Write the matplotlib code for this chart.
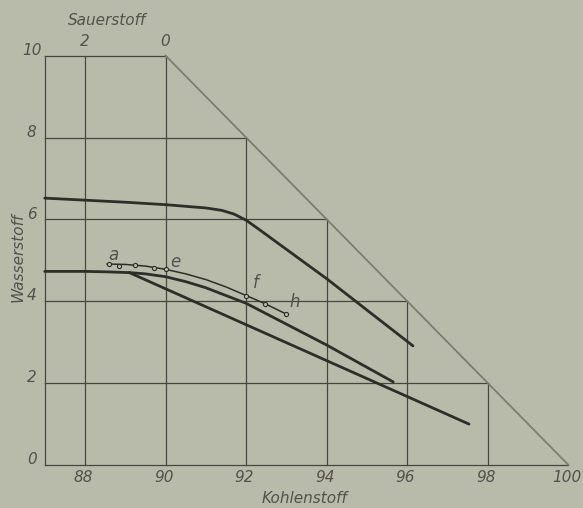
import matplotlib
matplotlib.use('Agg')
import matplotlib.pyplot as plt

# carbon (x) and hydrogen (y) grid levels; oxygen = 100 - C - H
carbon_ticks = [88, 90, 92, 94, 96, 98, 100]
hydrogen_ticks = [0, 2, 4, 6, 8, 10]
oxygen_ticks = [2, 0]          # on the top line H = 10
oxygen_tick_c = [88, 90]

# thick curves
upper_c = [87, 88, 89, 90, 91, 91.4, 91.7, 92.0, 92.3, 94, 96.14]
upper_h = [6.52, 6.47, 6.42, 6.36, 6.28, 6.22, 6.13, 5.98, 5.77, 4.55, 2.91]

base_c = [87, 88, 88.5, 89.1]
base_h = [4.73, 4.73, 4.72, 4.70]

middle_c = [89.1, 89.5, 90, 90.5, 91, 92, 94, 95.65]
middle_h = [4.70, 4.67, 4.60, 4.48, 4.33, 3.95, 2.93, 2.03]

lower_c = [89.1, 97.53]
lower_h = [4.70, 1.0]

# thin curve a - e - f and f - h with measured points
thin_c = [88.55, 89.0, 89.5, 90.0, 90.5, 91.0, 91.5, 92.0]
thin_h = [4.91, 4.90, 4.86, 4.78, 4.67, 4.53, 4.35, 4.14]
thin_pts_c = [88.6, 88.85, 89.25, 89.7, 90.0]
thin_pts_h = [4.91, 4.87, 4.88, 4.82, 4.78]

fh_c = [92.0, 92.47, 92.99]
fh_h = [4.14, 3.94, 3.69]

labels = ['a', 'e', 'f', 'h']
label_c = [88.7, 90.24, 92.25, 93.21]
label_h = [5.12, 4.95, 4.45, 3.98]

bg = '#b9bbaa'
ink = '#2e2e29'
grid_col = '#46463f'
txt = '#52524b'

fig = plt.figure(figsize=(5.83, 5.08), dpi=100, facecolor=bg)
ax = fig.add_axes([0, 0, 1, 1])
ax.set_facecolor(bg)
ax.set_xlim(85.89, 100.36)
ax.set_ylim(-1.05, 11.36)
ax.axis('off')

# grid lines clipped at the diagonal C + H = 100
for h in hydrogen_ticks:
    ax.plot([87, 100 - h], [h, h], color=grid_col, lw=0.9)
for c in carbon_ticks[:-1]:
    ax.plot([c, c], [0, min(10, 100 - c)], color=grid_col, lw=0.9)
ax.plot([87, 87], [0, 10], color=grid_col, lw=0.9)
ax.plot([90, 100], [10, 0], color='#7c7d71', lw=1.3)

# curves
for cs, hs in [(upper_c, upper_h), (base_c, base_h),
               (middle_c, middle_h), (lower_c, lower_h)]:
    ax.plot(cs, hs, color=ink, lw=2.0, solid_capstyle='round',
            solid_joinstyle='round')
ax.plot(thin_c, thin_h, color=ink, lw=1.1)
ax.plot(fh_c, fh_h, color=ink, lw=1.1)
ax.plot(thin_pts_c, thin_pts_h, 'o', ms=3, mfc=bg, mec=ink, mew=0.8)
ax.plot(fh_c, fh_h, 'o', ms=3, mfc=bg, mec=ink, mew=0.8)

fs = dict(fontsize=11, fontstyle='italic', color=txt)
for lab, c, h in zip(labels, label_c, label_h):
    ax.text(c, h, lab, ha='center', va='center', fontsize=12,
            fontstyle='italic', color=txt)

for c in carbon_ticks:
    ax.text(c - 0.05, -0.3, str(c), ha='center', va='center', **fs)
for h in hydrogen_ticks:
    ax.text(86.68, h + 0.13, str(h), ha='center', va='center', **fs)
for o, c in zip(oxygen_ticks, oxygen_tick_c):
    ax.text(c, 10.34, str(o), ha='center', va='center', **fs)

ax.text(93.46, -0.83, 'Kohlenstoff', ha='center', va='center', **fs)
ax.text(88.54, 10.87, 'Sauerstoff', ha='center', va='center', **fs)
ax.text(86.34, 5.07, 'Wasserstoff', ha='center', va='center',
        rotation=90, **fs)

fig.savefig('out.png', dpi=100, facecolor=bg)
